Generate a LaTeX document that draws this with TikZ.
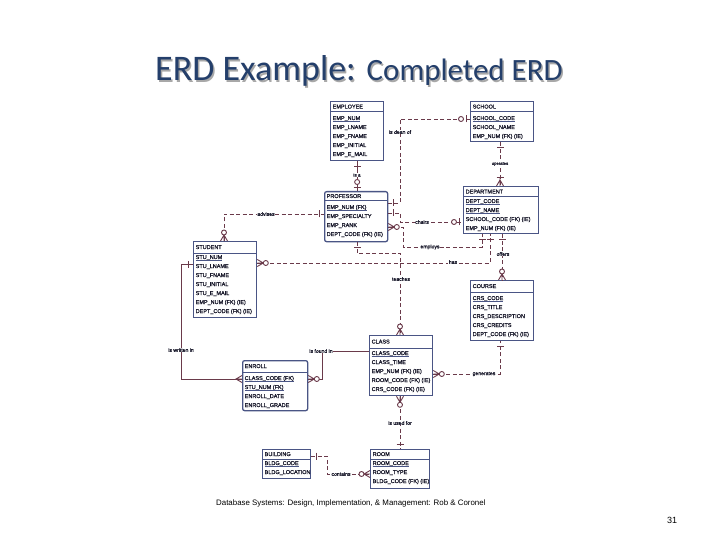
\documentclass[tikz,border=0pt]{standalone}
\usepackage{fontspec}
\setmainfont{Liberation Sans}
\newfontfamily\titlefont{Carlito}
\newfontfamily\erdfont{Liberation Sans}[FakeBold=1.2]
\usetikzlibrary{calc}
\definecolor{entc}{HTML}{4A5585}
\definecolor{relc}{HTML}{6A3A4A}
\definecolor{txtc}{HTML}{1A1A2C}
\definecolor{titc}{HTML}{243F6B}
\definecolor{shadc}{HTML}{A8A8A8}
\tikzset{
  entextra/.style={},
  entbox/.style={draw=entc, line width=1.3pt, inner sep=0pt, fill=white, entextra},
  entline/.style={draw=entc, line width=1pt},
  etext/.style={inner sep=0pt, font=\erdfont\fontsize{5.5}{6}\selectfont, text=txtc},
  rel/.style={draw=relc, line width=0.9pt},
  reld/.style={rel, dash pattern=on 4pt off 2.5pt},
  lab/.style={fill=white, inner sep=0.6pt, font=\erdfont\fontsize{5.1}{6}\selectfont, text=txtc},
  pics/one/.style={code={\draw[rel] (5,-3.5) -- (5,3.5);}},
  pics/zone/.style={code={\draw[rel] (4,-3.5) -- (4,3.5); \draw[rel, fill=white] (9,0) circle (2.5pt);}},
  pics/zmany/.style={code={\draw[rel] (0,-3.5) -- (6,0) -- (0,3.5) (0,0) -- (6,0); \draw[rel, fill=white] (8.5,0) circle (2.5pt);}},
  pics/omany/.style={code={\draw[rel] (0,-3.5) -- (6,0) -- (0,3.5) (0,0) -- (8,0); \draw[rel] (8.5,-3.5) -- (8.5,3.5);}},
  pics/many/.style={code={\draw[rel] (0,-3.5) -- (6,0) -- (0,3.5) (0,0) -- (6,0);}},
}
% name, x, y, w, h, header height, first row centre y, header, rows
\newcommand\erdent[9]{%
  \node[entbox, minimum width=#4pt, minimum height=#5pt, anchor=north west] (#1) at (#2,#3) {};
  \draw[entline] ($(#1.north west)+(0,#6)$) -- ($(#1.north east)+(0,#6)$);
  \node[etext, anchor=base west] (#1-h) at ({#2+2.5},{#3+#6/2+2}) {#8};
  \foreach \rowtxt/\rowu [count=\rowi] in {#9} {
    \node[etext, anchor=base west] (#1-\rowi) at ({#2+2.5},{#7+(\rowi-1)*9+2}) {\rowtxt};
    \ifnum\rowu=1 \draw[entline, line width=0.6pt] ($(#1-\rowi.base west)+(0,1.6)$) -- ($(#1-\rowi.base east)+(0,1.6)$);\fi
  }%
}
\begin{document}
\begin{tikzpicture}[x=1pt, y=-1pt]
\fill[white] (0,0) rectangle (720,540);
\useasboundingbox (0,0) rectangle (720,540);

% title
\node[anchor=base west, text=shadc, inner sep=0pt] (titleshadow) at (156.5,82.5)
  {\titlefont\fontsize{36}{36}\selectfont ERD Example: \fontsize{31}{31}\selectfont Completed ERD};
\node[anchor=base west, text=titc, inner sep=0pt] (title) at (155,81)
  {\titlefont\fontsize{36}{36}\selectfont ERD Example: \fontsize{31}{31}\selectfont Completed ERD};

% entities
\erdent{employee}{330}{101}{53}{59}{11}{118}{EMPLOYEE}{EMP\_NUM/1, EMP\_LNAME/0, EMP\_FNAME/0, EMP\_INITIAL/0, EMP\_E\_MAIL/0}
\erdent{school}{470}{101}{63}{40}{11}{118}{SCHOOL}{SCHOOL\_CODE/1, SCHOOL\_NAME/0, EMP\_NUM (FK) (IE)/0}
\tikzset{entextra/.style={rounded corners=2pt}}
\erdent{professor}{324}{191}{63}{50}{10}{207}{PROFESSOR}{EMP\_NUM (FK)/1, EMP\_SPECIALTY/0, EMP\_RANK/0, DEPT\_CODE (FK) (IE)/0}
\tikzset{entextra/.style={}}
\erdent{department}{463}{186}{75}{47}{11}{201}{DEPARTMENT}{DEPT\_CODE/1, DEPT\_NAME/1, SCHOOL\_CODE (FK) (IE)/0, EMP\_NUM (FK) (IE)/0}
\erdent{student}{193}{241}{63}{76}{12}{257}{STUDENT}{STU\_NUM/1, STU\_LNAME/0, STU\_FNAME/0, STU\_INITIAL/0, STU\_E\_MAIL/0, EMP\_NUM (FK) (IE)/0, DEPT\_CODE (FK) (IE)/0}
\erdent{course}{470}{280}{63}{60}{12}{298}{COURSE}{CRS\_CODE/1, CRS\_TITLE/0, CRS\_DESCRIPTION/0, CRS\_CREDITS/0, DEPT\_CODE (FK) (IE)/0}
\erdent{class}{369}{335}{63}{60}{13}{353}{CLASS}{CLASS\_CODE/1, CLASS\_TIME/0, EMP\_NUM (FK) (IE)/0, ROOM\_CODE (FK) (IE)/0, CRS\_CODE (FK) (IE)/0}
\tikzset{entextra/.style={rounded corners=2pt}}
\erdent{enroll}{242}{360}{65}{50}{12}{378}{ENROLL}{CLASS\_CODE (FK)/1, STU\_NUM (FK)/1, ENROLL\_DATE/0, ENROLL\_GRADE/0}
\tikzset{entextra/.style={}}
\erdent{building}{262}{449}{48}{29}{10}{463}{BUILDING}{BLDG\_CODE/1, BLDG\_LOCATION/0}
\erdent{room}{370}{449}{59}{39}{10}{463}{ROOM}{ROOM\_CODE/1, ROOM\_TYPE/0, BLDG\_CODE (FK) (IE)/0}

% is a
\draw[rel] (employee.south) -- (employee.south |- professor.north);
\path (employee.south) pic[rotate=-90] {one};
\path (employee.south |- professor.north) pic[rotate=90] {zone};
\node[lab, font=\erdfont\fontsize{4.6}{5}\selectfont] (l-isa) at (357,175) {is a};

% is dean of
\draw[reld] (school.west |- 0,119) -| (400,203) -- (professor.east |- 0,203);
\path (school.west |- 0,119) pic[rotate=180] {zone};
\path (professor.east |- 0,203) pic {one};
\node[lab] (l-dean) at (400,132) {is dean of};

% operates
\draw[reld] (school.south -| 500,0) -- (department.north -| 500,0);
\path (school.south -| 500,0) pic[rotate=-90] {one};
\path (department.north -| 500,0) pic[rotate=90] {omany};
\node[lab, font=\erdfont\fontsize{4.2}{5}\selectfont] (l-operates) at (500,164) {operates};

% chairs
\draw[reld] (professor.east |- 0,213) -- (400,213) -- (400,222) -- (department.west |- 0,222);
\path (professor.east |- 0,213) pic {one};
\path (department.west |- 0,222) pic[rotate=180] {zone};
\node[lab] (l-chairs) at (422,222) {chairs};

% employs
\draw[reld] (professor.east |- 0,227) -- (403,227) -- (403,247) -- (482,247) -- (department.south -| 482,0);
\path (professor.east |- 0,227) pic {zmany};
\path (department.south -| 482,0) pic[rotate=-90] {one};
\node[lab] (l-employs) at (430,247) {employs};

% has
\draw[reld] (student.east |- 0,263) -- (490,263) -- (department.south -| 490,0);
\path (student.east |- 0,263) pic {zmany};
\path (department.south -| 490,0) pic[rotate=-90] {one};
\node[lab] (l-has) at (453,262) {has};

% offers
\draw[reld] (department.south -| 502,0) -- (course.north -| 502,0);
\path (department.south -| 502,0) pic[rotate=-90] {one};
\path (course.north -| 502,0) pic[rotate=90] {zmany};
\node[lab] (l-offers) at (503,254) {offers};

% teaches
\draw[reld] (professor.south -| 357,0) -- (357,253) -- (400,253) -- (class.north -| 400,0);
\path (professor.south -| 357,0) pic[rotate=-90] {one};
\path (class.north -| 400,0) pic[rotate=90] {zmany};
\node[lab] (l-teaches) at (401,279) {teaches};

% advises
\draw[reld] (student.north -| 224,0) -- (224,214) -- (professor.west |- 0,214);
\path (student.north -| 224,0) pic[rotate=90] {zmany};
\path (professor.west |- 0,214) pic[rotate=180] {one};
\node[lab] (l-advises) at (266,214) {advises};

% is written in
\draw[rel] (student.west |- 0,264) -- (181,264) -- (181,379) -- (enroll.west |- 0,379);
\path (student.west |- 0,264) pic[rotate=180] {one};
\path (enroll.west |- 0,379) pic[rotate=180] {many};
\node[lab] (l-written) at (181,350) {is written in};

% is found in
\draw[rel] (enroll.east |- 0,379) -- (322,379) -- (322,351) -- (class.west |- 0,351);
\path (enroll.east |- 0,379) pic {zmany};
\node[lab] (l-found) at (321,351) {is found in};

% generates
\draw[reld] (class.east |- 0,374) -- (500,374) -- (course.south -| 500,0);
\path (class.east |- 0,374) pic {zmany};
\path (course.south -| 500,0) pic[rotate=-90] {one};
\node[lab] (l-generates) at (484,374) {generates};

% is used for
\draw[reld] (class.south -| 400,0) -- (room.north -| 400,0);
\path (class.south -| 400,0) pic[rotate=-90] {zmany};
\path (room.north -| 400,0) pic[rotate=90] {one};
\node[lab] (l-used) at (400,423) {is used for};

% contains
\draw[reld] (building.east |- 0,456) -- (327,456) -- (327,474) -- (room.west |- 0,474);
\path (building.east |- 0,456) pic {one};
\path (room.west |- 0,474) pic[rotate=180] {zmany};
\node[lab] (l-contains) at (341,474) {contains};

% footer
\node[anchor=base west, inner sep=0pt, font=\fontsize{7.9}{8}\selectfont, text=black] (footer) at (216,505.5)
  {Database Systems: Design, Implementation, \& Management: Rob \& Coronel};
\node[inner sep=0pt, font=\fontsize{9}{9}\selectfont, text=black] (pagenum) at (672,520) {31};
\end{tikzpicture}
\end{document}
